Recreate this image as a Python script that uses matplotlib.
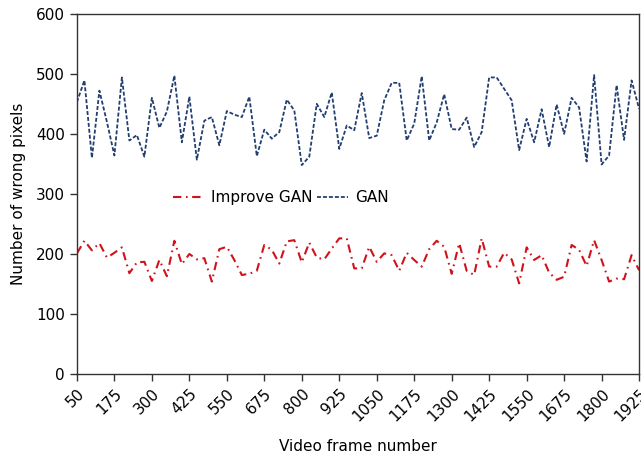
import matplotlib
matplotlib.use("Agg")
import matplotlib.pyplot as plt
import numpy as np

frames = list(range(50, 1926, 25))

gan = [453, 489, 360, 472, 420, 364, 494, 389, 398, 362,
       460, 410, 437, 497, 386, 462, 357, 422, 428, 381,
       438, 432, 428, 462, 363, 407, 392, 403, 457, 439,
       348, 362, 450, 428, 469, 375, 414, 406, 468, 393,
       397, 456, 485, 485, 389, 417, 496, 389, 419, 466,
       408, 407, 427, 378, 403, 494, 494, 475, 456, 373,
       425, 386, 441, 378, 449, 400, 460, 444, 354, 498,
       349, 364, 481, 390, 489, 442]

improve_gan = [201, 222, 206, 218, 194, 202, 211, 168, 186, 187,
               155, 190, 163, 222, 183, 200, 191, 193, 154, 208,
               212, 190, 165, 167, 172, 215, 207, 184, 221, 223,
               186, 219, 194, 191, 209, 226, 226, 176, 176, 212,
               187, 201, 198, 172, 202, 190, 179, 208, 222, 212,
               167, 218, 172, 165, 226, 179, 179, 202, 191, 151,
               211, 190, 198, 169, 157, 162, 215, 207, 180, 223,
               190, 154, 159, 158, 198, 173]

xticks = list(range(50, 1926, 125))
yticks = [0, 100, 200, 300, 400, 500, 600]

plt.rcParams['font.family'] = ['DejaVu Sans']
fig = plt.figure(figsize=(6.41, 4.59), dpi=100)
ax = fig.add_axes([0.120, 0.185, 0.877, 0.785])

ax.plot(frames, improve_gan, color='#d0121b', linewidth=1.5,
        linestyle=(0, (4, 2.2, 0.8, 2.2)), label='Improve GAN')
ax.plot(frames, gan, color='#233f70', linewidth=1.3,
        linestyle=(0, (2.2, 1.1)), label='GAN')

ax.set_xlim(50, 1925)
ax.set_ylim(0, 600)
ax.set_xticks(xticks)
ax.set_xticklabels([str(t) for t in xticks], rotation=45, ha='right',
                   rotation_mode='anchor')
ax.set_yticks(yticks)
ax.tick_params(labelsize=11, length=5, width=1, color='#333333')
for s in ax.spines.values():
    s.set_color('#333333')
    s.set_linewidth(1.0)

ax.set_xlabel('Video frame number', fontsize=11, labelpad=11)
ax.set_ylabel('Number of wrong pixels', fontsize=11, labelpad=7)

leg = ax.legend(loc='center', bbox_to_anchor=(0.363, 0.49), ncol=2,
                frameon=False, fontsize=11, handlelength=2.0,
                columnspacing=0.3, handletextpad=0.5)

fig.savefig('out.png', dpi=100)
